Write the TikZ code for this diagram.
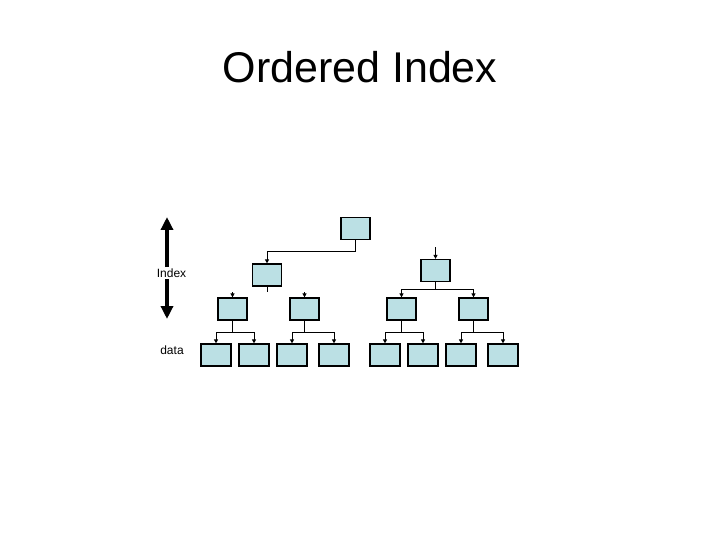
\documentclass[tikz,border=0pt]{standalone}
\usepackage{fontspec}
\setmainfont{Liberation Sans}
\usetikzlibrary{arrows.meta}
\definecolor{boxblue}{RGB}{187,224,228}

\tikzset{
  blk/.style={draw=black, fill=boxblue, line width=1.2pt, minimum width=29pt, minimum height=22pt, inner sep=0pt},
  datablk/.style={blk, minimum width=30pt},
  link/.style={line width=1pt, -{Triangle[length=4pt,width=4pt]}},
  plain/.style={line width=1pt},
  big/.style={line width=4.5pt, -{Triangle[length=13pt,width=12pt]}},
}

\begin{document}
\begin{tikzpicture}[x=1pt,y=-1pt]
  \useasboundingbox (0,0) rectangle (720,540);
  \node (title) at (360,67) {\fontsize{43}{50}\selectfont Ordered Index};

  % index levels
  \node[blk] (root) at (355.5,228.5) {};
  \node[blk] (ileft) at (267,275) {};
  \node[blk] (iright) at (435.5,270.5) {};
  \node[blk] (la) at (232.5,309) {};
  \node[blk] (lb) at (304.5,309) {};
  \node[blk] (lc) at (401.5,309) {};
  \node[blk] (ld) at (473.5,309) {};

  % data blocks
  \node[datablk] (d1) at (216,355) {};
  \node[datablk] (d2) at (254,355) {};
  \node[datablk] (d3) at (292,355) {};
  \node[datablk] (d4) at (334,355) {};
  \node[datablk] (d5) at (385,355) {};
  \node[datablk] (d6) at (423,355) {};
  \node[datablk] (d7) at (461,355) {};
  \node[datablk] (d8) at (503,355) {};

  % labels
  \node (idx) at (171.5,273) {\fontsize{12}{14}\selectfont Index};
  \node (dat) at (172,350) {\fontsize{12}{14}\selectfont data};
  \coordinate (itop) at (167,217);
  \coordinate (ibot) at (167,319);
  \draw[big] (idx.north -| itop) ++(0,2) -- (itop);
  \draw[big] (idx.south -| ibot) ++(0,-2) -- (ibot);

  % root to left
  \coordinate (rj) at (355.5,251);
  \draw[link] (root.south) -- (rj) -| (ileft.north);
  \coordinate (istub) at (267,292);
  \draw[plain] (ileft.south) -- (istub);

  % right index block
  \coordinate (ifeed) at (435.5,247);
  \draw[link] (ifeed) -- (iright.north);
  \coordinate (rj2) at (435.5,289);
  \draw[plain] (iright.south) -- (rj2);
  \draw[link] (rj2) -| (lc.north);
  \draw[link] (rj2) -| (ld.north);

  % feeds into la, lb
  \coordinate (fa) at (232.5,292);
  \coordinate (fb) at (304.5,292);
  \draw[link] (fa) -- (la.north);
  \draw[link] (fb) -- (lb.north);

  % level 2 to data
  \coordinate (ja) at (232.5,332);
  \coordinate (jb) at (304.5,332);
  \coordinate (jc) at (401.5,332);
  \coordinate (jd) at (473.5,332);
  \draw[plain] (la.south) -- (ja);
  \draw[plain] (lb.south) -- (jb);
  \draw[plain] (lc.south) -- (jc);
  \draw[plain] (ld.south) -- (jd);
  \draw[link] (ja) -| (d1.north);
  \draw[link] (ja) -| (d2.north);
  \draw[link] (jb) -| (d3.north);
  \draw[link] (jb) -| (d4.north);
  \draw[link] (jc) -| (d5.north);
  \draw[link] (jc) -| (d6.north);
  \draw[link] (jd) -| (d7.north);
  \draw[link] (jd) -| (d8.north);
\end{tikzpicture}
\end{document}
